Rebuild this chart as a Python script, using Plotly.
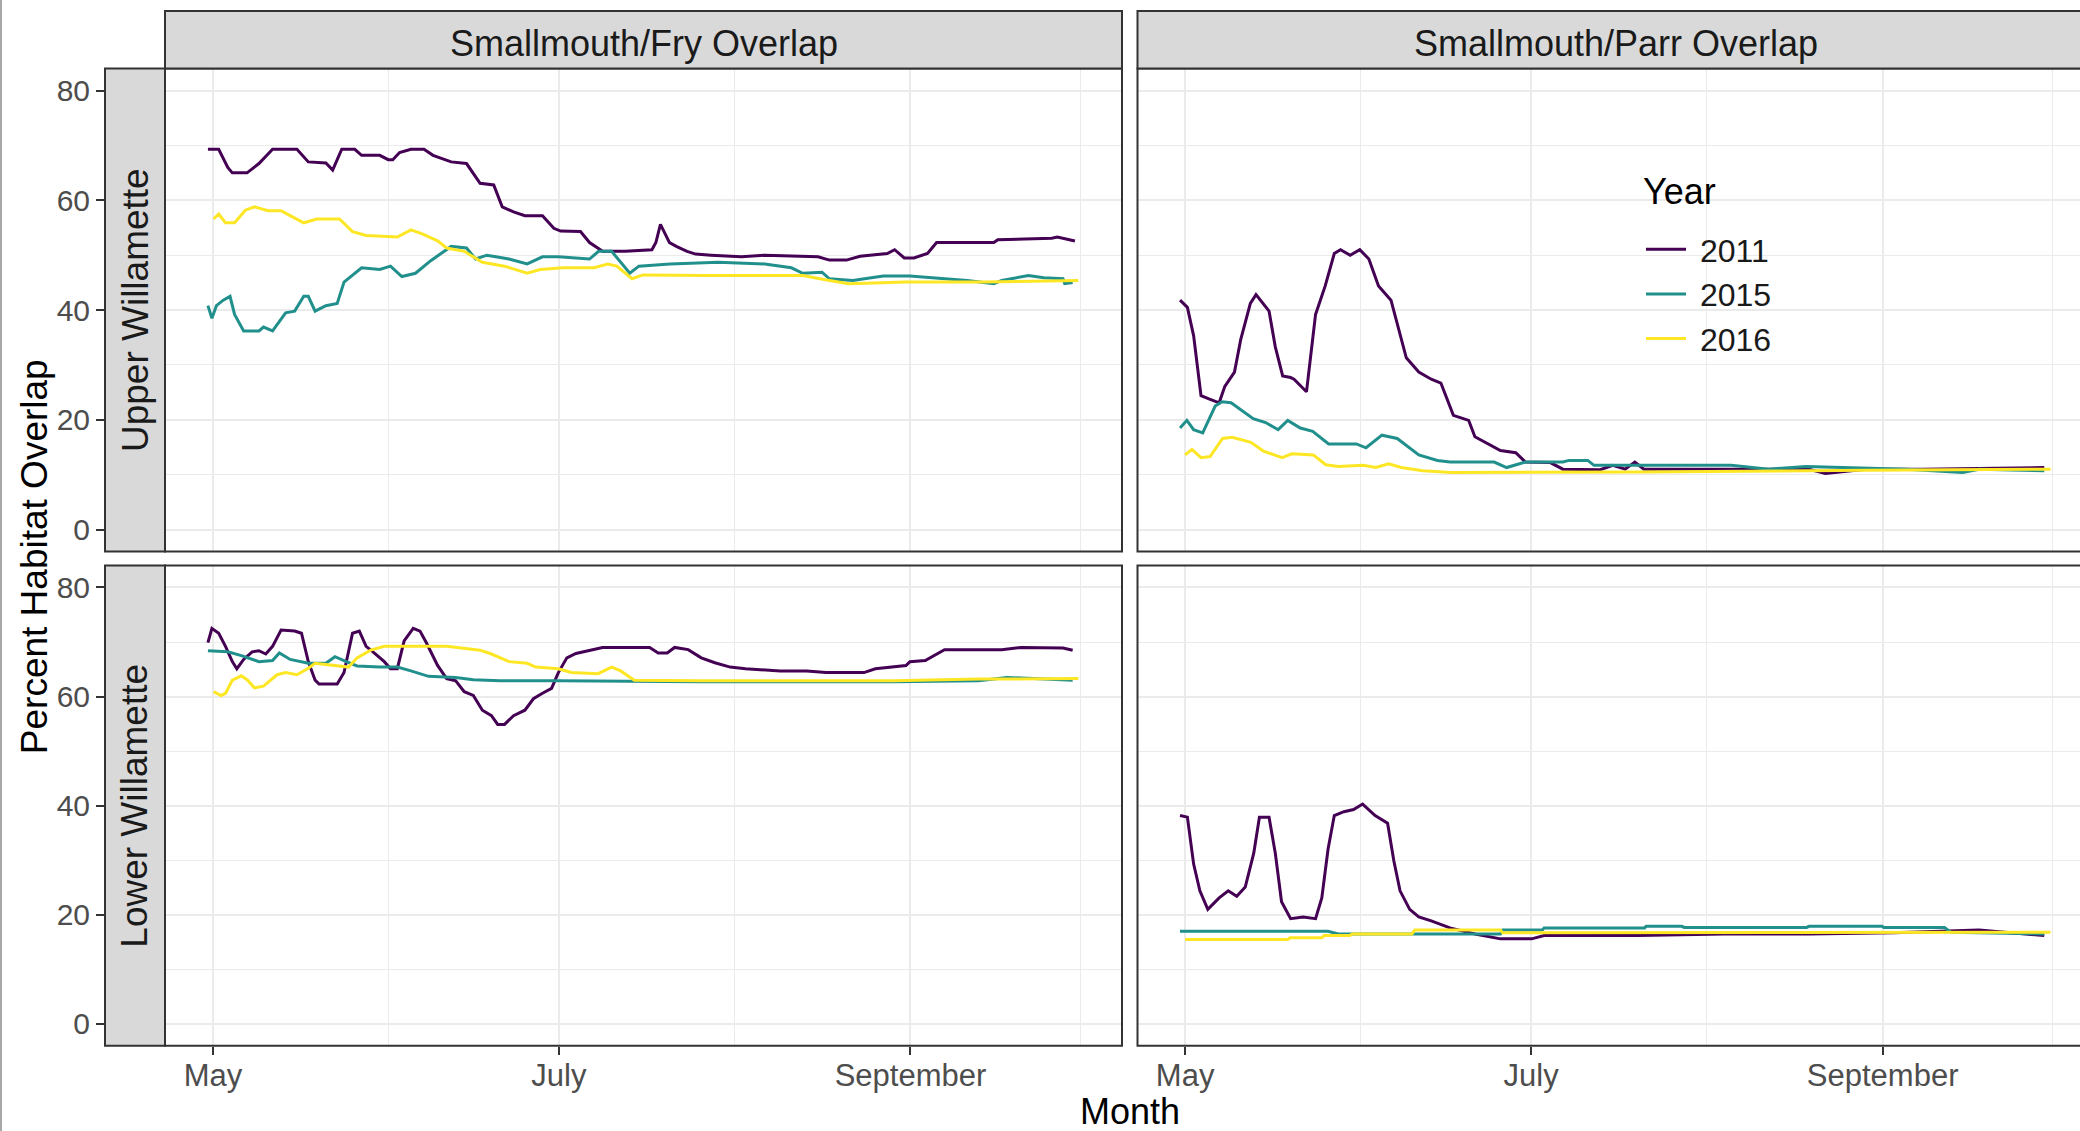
import pandas as pd
import plotly.graph_objects as go

W, H = 2080, 1131

# ---------------- data (x = days after May 1, y = percent overlap) ----------------
years = ["2011", "2015", "2016"]
colors = {"2011": "#440154", "2015": "#21908C", "2016": "#FDE725"}
col_titles = ["Smallmouth/Fry Overlap", "Smallmouth/Parr Overlap"]
row_titles = ["Upper Willamette", "Lower Willamette"]
x_tick_labels = ["May", "July", "September"]
x_tick_dates = ["2016-05-01", "2016-07-01", "2016-09-01"]
x_minor_dates = ["2016-06-01", "2016-08-01", "2016-10-01"]
y_ticks = [0, 20, 40, 60, 80]
y_minor = [10, 30, 50, 70]

fry_upper_2011_days = [-0.9, 1, 2.6, 3.4, 6, 8.1, 10.5, 14.8, 16.8, 19.9, 21.1, 22.7, 25, 26.2, 29.4, 30.9, 31.7, 32.9, 34.9, 37.2, 38.8, 42, 44.7, 47.1, 49.5, 51, 53, 55, 58.1, 60.1, 61.3, 64.8, 66.4, 68.7, 72.7, 77.4, 78.1, 78.9, 80.5, 81.7, 83.6, 85.1, 87.8, 93.2, 97.3, 106.7, 108.7, 111.7, 114.1, 118.9, 120.2, 121.9, 123.6, 126, 127.6, 137.7, 138.4, 147.9, 148.9, 152]
fry_upper_2011_vals = [69.3, 69.3, 66, 65, 65, 66.7, 69.3, 69.3, 67, 66.8, 65.5, 69.3, 69.3, 68.2, 68.2, 67.4, 67.4, 68.7, 69.3, 69.3, 68.2, 67, 66.7, 63.1, 62.8, 58.8, 57.9, 57.2, 57.2, 54.9, 54.4, 54.3, 52.3, 50.7, 50.7, 51, 52.3, 55.6, 52.3, 51.6, 50.7, 50.2, 50, 49.7, 50, 49.7, 49.1, 49.1, 49.8, 50.3, 51, 49.5, 49.5, 50.3, 52.3, 52.3, 52.8, 53.1, 53.3, 52.6]

fry_upper_2015_days = [-0.9, -0.2, 0.6, 1.8, 3, 3.8, 5.4, 8.1, 8.9, 10.5, 12.8, 14.4, 16, 16.8, 18, 19.9, 21.9, 23.1, 26.2, 29.4, 31.3, 33.3, 35.7, 38.4, 42, 44.7, 46.3, 48.3, 52.2, 55.4, 58.1, 60.9, 66.4, 68, 70.3, 73.5, 75.1, 80.6, 89.1, 97.3, 102, 104, 107.4, 108.7, 112.8, 118.2, 122.9, 133, 137.7, 139.1, 143.8, 146.5, 149.9, 150.2, 151.6]
fry_upper_2015_vals = [40.8, 38.5, 40.8, 41.8, 42.5, 39.2, 36.2, 36.2, 36.9, 36.2, 39.5, 39.8, 42.5, 42.5, 39.8, 40.8, 41.2, 45.1, 47.7, 47.4, 48, 46.1, 46.7, 49, 51.6, 51.3, 49.3, 50, 49.3, 48.4, 49.7, 49.7, 49.3, 50.7, 50.7, 46.7, 48, 48.4, 48.7, 48.4, 47.7, 46.7, 46.9, 45.7, 45.4, 46.2, 46.2, 45.4, 44.8, 45.4, 46.3, 45.9, 45.7, 44.8, 45]

fry_upper_2016_days = [0.1, 1, 2.2, 3.8, 5.7, 7.3, 9.7, 12, 13.6, 16, 18.3, 22.3, 24.6, 27, 32.5, 34.9, 36.9, 39.6, 41.2, 44.3, 47.5, 51.4, 55.4, 57.7, 61.7, 67.2, 69.6, 71.2, 73.9, 75.8, 87.1, 104, 108.7, 112.1, 122.2, 135.7, 152.6]
fry_upper_2016_vals = [56.6, 57.5, 55.9, 55.9, 58.2, 58.8, 58.1, 58.1, 57.2, 55.9, 56.6, 56.6, 54.3, 53.6, 53.3, 54.6, 53.9, 52.6, 51.3, 50.7, 48.7, 48, 46.7, 47.4, 47.7, 47.7, 48.4, 48, 45.7, 46.4, 46.3, 46.3, 45.4, 44.8, 45.1, 45.1, 45.4]

parr_upper_2011_days = [-0.9, 0.4, 1.5, 2.8, 4.2, 6, 7, 8.7, 9.8, 11.5, 12.5, 14.8, 15.9, 17.2, 18.6, 19.2, 21.4, 23, 24.7, 26.3, 27.4, 29.1, 30.8, 32.4, 34.1, 36.3, 39, 41.2, 43.4, 45.1, 47.3, 50, 51.1, 53.4, 55.6, 58.3, 60, 64.4, 66.6, 73.2, 75.4, 77.6, 79.3, 80.9, 100, 110, 112.9, 120, 130, 140, 151.5]
parr_upper_2011_vals = [41.8, 40.5, 35.3, 24.4, 23.8, 23.1, 26.1, 28.7, 34.6, 41.2, 42.8, 39.8, 33.3, 28, 27.7, 27.4, 25.1, 39.2, 44.4, 50.3, 51, 50, 51, 49.3, 44.4, 41.8, 31.3, 28.7, 27.4, 26.7, 20.8, 19.9, 16.9, 15.6, 14.4, 14, 12.3, 12.2, 11, 10.9, 11.7, 11, 12.3, 11, 11, 11, 10.2, 11, 11, 11.2, 11.3]

parr_upper_2015_days = [-0.9, 0.3, 1.5, 3.1, 5.3, 6.5, 8.1, 9.2, 12, 14.2, 16.4, 18.1, 20.3, 22.5, 25.3, 30.2, 31.9, 34.7, 37.4, 41.2, 44.5, 46.7, 54.5, 56.7, 60, 66.6, 67.7, 71, 72.1, 84.2, 96.3, 102.9, 109.5, 127.2, 137.1, 140, 151.5]
parr_upper_2015_vals = [18.5, 19.9, 18.2, 17.6, 22.5, 23.3, 23.1, 22.3, 20.2, 19.5, 18.2, 19.9, 18.5, 17.9, 15.6, 15.6, 14.9, 17.2, 16.6, 13.6, 12.6, 12.3, 12.3, 11.3, 12.3, 12.3, 12.6, 12.6, 11.7, 11.7, 11.7, 11, 11.5, 11, 10.4, 11, 10.7]

parr_upper_2016_days = [0, 1.2, 2.8, 4.4, 6.6, 8.3, 11.6, 13.8, 17.1, 18.8, 22.6, 24.8, 27, 31.4, 33.6, 35.9, 38.1, 41.9, 46.9, 80, 120, 152.6]
parr_upper_2016_vals = [13.6, 14.6, 13.1, 13.3, 16.6, 16.8, 15.9, 14.3, 13.1, 13.8, 13.6, 11.8, 11.5, 11.7, 11.3, 12, 11.3, 10.7, 10.4, 10.5, 10.8, 11]

fry_lower_2011_days = [-0.9, -0.2, 1, 2.2, 3.4, 4.2, 5.4, 6.9, 8.1, 9.3, 10.5, 12, 14.4, 15.6, 16.8, 18, 18.7, 21.9, 23.1, 24.6, 25.8, 27, 28.2, 30.2, 31.3, 32.5, 33.7, 35.3, 36.5, 37.6, 39.6, 41.2, 42.8, 44.3, 45.9, 47.5, 49.1, 50.2, 51.4, 53, 55, 56.5, 58.1, 59.7, 60.9, 62.4, 64, 66.4, 68.7, 77, 78.5, 80.1, 81.4, 83.8, 86.1, 88.5, 91.2, 93.9, 100, 104.7, 108.1, 114.8, 116.8, 122.2, 122.9, 125.6, 129, 139.1, 142.5, 149.9, 151.6]
fry_lower_2011_vals = [69.9, 72.5, 71.6, 69.2, 66.4, 65.1, 66.8, 68.2, 68.4, 67.8, 69.2, 72.2, 72, 71.6, 66.4, 63, 62.3, 62.3, 64.4, 71.6, 72, 69.2, 68.2, 66.4, 65.1, 65.1, 70.2, 72.5, 72, 69.9, 65.7, 63.3, 62.9, 60.9, 60.2, 57.5, 56.5, 54.9, 54.9, 56.5, 57.5, 59.6, 60.6, 61.5, 64.4, 67.1, 67.9, 68.5, 69, 69, 68, 68, 69, 68.6, 67.1, 66.2, 65.4, 65.1, 64.7, 64.7, 64.4, 64.4, 65.1, 65.7, 66.4, 66.6, 68.6, 68.6, 69, 68.9, 68.5]

fry_lower_2015_days = [-0.9, 2.6, 5, 8.1, 10.5, 11.7, 13.6, 16.8, 19.9, 21.5, 23.5, 25.4, 29.4, 32.5, 34.9, 38, 42.8, 45.9, 50.6, 60.9, 85.9, 120, 135, 140, 151.6]
fry_lower_2015_vals = [68.4, 68.2, 67.5, 66.4, 66.6, 68, 66.8, 66.1, 66.1, 67.3, 66.4, 65.6, 65.4, 65.4, 64.7, 63.7, 63.5, 63.1, 62.9, 62.9, 62.7, 62.7, 62.9, 63.5, 63]

fry_lower_2016_days = [0.1, 1.4, 2.2, 3.4, 5, 6.1, 7.3, 8.9, 11.3, 12.8, 14.8, 16.8, 18, 23.9, 25.4, 27.8, 30.2, 41.2, 47.1, 49.1, 52.2, 55.4, 56.9, 60.9, 63.2, 67.9, 70.3, 71.9, 74.3, 85.9, 120, 135, 152.6]
fry_lower_2016_vals = [60.9, 60.2, 60.6, 63, 63.8, 63, 61.6, 61.9, 64, 64.4, 64, 65.2, 66.1, 65.4, 67.1, 68.5, 69.2, 69.2, 68.5, 67.8, 66.4, 66.1, 65.4, 65.1, 64.4, 64.2, 65.4, 64.7, 63, 62.9, 62.9, 63.2, 63.3]

parr_lower_2011_days = [-0.9, 0.4, 1.5, 2.6, 4, 6, 7.6, 9.1, 10.6, 12.1, 13.1, 14.8, 15.9, 17, 18.6, 20.8, 23, 24.1, 25.2, 26.3, 28, 29.7, 31.3, 33.5, 35.7, 36.8, 37.9, 39.6, 41.2, 43.4, 46.7, 51.1, 55.6, 61.1, 63.3, 67.2, 79.9, 95, 110, 125, 140, 151.5]
parr_lower_2011_vals = [38.2, 37.9, 29.3, 24.4, 21, 23.1, 24.4, 23.4, 25.1, 31.3, 37.9, 37.9, 31.3, 22.4, 19.3, 19.6, 19.3, 23.1, 32, 38.2, 38.9, 39.3, 40.3, 38.2, 36.8, 29.9, 24.4, 21, 19.6, 18.9, 17.6, 16.5, 15.6, 15.6, 16.2, 16.2, 16.2, 16.5, 16.5, 16.7, 17.2, 16.2]

parr_lower_2015_days = [-0.9, 25.2, 27, 40, 55.6, 56, 63, 63.3, 81, 81.3, 87.6, 88, 109.6, 110, 122.9, 123.2, 133.9, 135, 151.5]
parr_lower_2015_vals = [17, 17, 16.5, 16.5, 16.5, 17.2, 17.2, 17.6, 17.6, 17.9, 17.9, 17.7, 17.7, 17.9, 17.9, 17.7, 17.7, 16.8, 16.5]

parr_lower_2016_days = [0, 18.1, 18.5, 24.1, 24.5, 29, 29.5, 40, 40.5, 55.6, 56, 100, 152.6]
parr_lower_2016_vals = [15.5, 15.5, 15.8, 15.8, 16.2, 16.2, 16.5, 16.5, 17.2, 17.2, 16.7, 16.8, 16.8]

series = {
    (0, 0): {"2011": (fry_upper_2011_days, fry_upper_2011_vals),
             "2015": (fry_upper_2015_days, fry_upper_2015_vals),
             "2016": (fry_upper_2016_days, fry_upper_2016_vals)},
    (0, 1): {"2011": (parr_upper_2011_days, parr_upper_2011_vals),
             "2015": (parr_upper_2015_days, parr_upper_2015_vals),
             "2016": (parr_upper_2016_days, parr_upper_2016_vals)},
    (1, 0): {"2011": (fry_lower_2011_days, fry_lower_2011_vals),
             "2015": (fry_lower_2015_days, fry_lower_2015_vals),
             "2016": (fry_lower_2016_days, fry_lower_2016_vals)},
    (1, 1): {"2011": (parr_lower_2011_days, parr_lower_2011_vals),
             "2015": (parr_lower_2015_days, parr_lower_2015_vals),
             "2016": (parr_lower_2016_days, parr_lower_2016_vals)},
}

BASE = pd.Timestamp("2016-05-01")


def to_dates(days):
    return BASE + pd.to_timedelta(pd.Series(days, dtype=float), unit="D")


def date_str(day):
    return (BASE + pd.Timedelta(days=day)).strftime("%Y-%m-%d %H:%M:%S")


# ---------------- layout geometry (pixels) ----------------
def px(x):
    return x / W


def py(y):
    return 1 - y / H


STRIP_TOP = 11
PANEL_TOP = [68.6, 565.6]
PANEL_BOT = [551.5, 1045.8]
ROW_STRIP_L = 105
COL_L = [165, 1137.5]
COL_R = [1122, 2094]
X_RANGE = [[-8.47, 160.3], [-8.4, 157.8]]

GRID = "#EBEBEB"
DARK = "#333333"
FONT = "Liberation Sans, Arial, sans-serif"

fig = go.Figure()

for (r, c), d in series.items():
    idx = r * 2 + c + 1
    sfx = "" if idx == 1 else str(idx)
    for yr in years:
        days, vals = d[yr]
        fig.add_trace(go.Scatter(
            x=to_dates(days), y=vals, mode="lines",
            line=dict(color=colors[yr], width=3),
            name="\u00a0" + yr, legendgroup=yr, showlegend=(idx == 1),
            xaxis="x" + sfx, yaxis="y" + sfx,
        ))

layout = dict(
    width=W, height=H, autosize=False,
    margin=dict(l=0, r=0, t=0, b=0),
    template="none",
    paper_bgcolor="white", plot_bgcolor="white",
    font=dict(family=FONT, color="#1A1A1A"),
    showlegend=True,
    legend=dict(
        x=px(1641), y=py(222), xanchor="left", yanchor="top",
        bgcolor="rgba(0,0,0,0)", borderwidth=0,
        font=dict(size=32, color="#1A1A1A", family=FONT),
        itemwidth=40, tracegroupgap=0,
    ),
)

for r in range(2):
    for c in range(2):
        idx = r * 2 + c + 1
        sfx = "" if idx == 1 else str(idx)
        xdom_r = min(COL_R[c], W) / W
        xa = dict(
            domain=[px(COL_L[c]), xdom_r], anchor="y" + sfx, type="date",
            range=[date_str(X_RANGE[c][0]), date_str(X_RANGE[c][1])],
            tickvals=x_tick_dates, ticktext=x_tick_labels,
            showgrid=True, gridcolor=GRID, gridwidth=2,
            minor=dict(tickvals=x_minor_dates, showgrid=True, gridcolor=GRID, gridwidth=1.3),
            zeroline=False, showline=False, automargin=False,
            fixedrange=True,
        )
        if r == 1:
            xa.update(ticks="outside", ticklen=8, tickwidth=2, tickcolor=DARK,
                      showticklabels=True, ticklabelstandoff=-6,
                      tickfont=dict(size=31, color="#4D4D4D", family=FONT))
        else:
            xa.update(ticks="", showticklabels=False)
        ya = dict(
            domain=[py(PANEL_BOT[r]), py(PANEL_TOP[r])], range=[-4, 84],
            tickvals=y_ticks, showgrid=True, gridcolor=GRID, gridwidth=2,
            minor=dict(tickvals=y_minor, showgrid=True, gridcolor=GRID, gridwidth=1.3),
            zeroline=False, showline=False, automargin=False, fixedrange=True,
        )
        if c == 0:
            ya.update(anchor="free", position=px(ROW_STRIP_L), ticks="outside",
                      ticklen=9, tickwidth=2, tickcolor=DARK, showticklabels=True,
                      tickfont=dict(size=30, color="#4D4D4D", family=FONT))
        else:
            ya.update(anchor="x" + sfx, ticks="", showticklabels=False)
        layout["xaxis" + sfx] = xa
        layout["yaxis" + sfx] = ya

shapes = []
annotations = []
# legend background (white key box over gridlines)
shapes.append(dict(type="rect", xref="paper", yref="paper", layer="between",
                   x0=px(1628), x1=px(1788), y0=py(371), y1=py(157),
                   line=dict(width=0), fillcolor="white"))
annotations.append(dict(text="Year", xref="paper", yref="paper", showarrow=False,
                        x=px(1641), y=py(192), xanchor="left", yanchor="middle",
                        font=dict(size=36, color="#000000", family=FONT)))
# panel borders
for r in range(2):
    for c in range(2):
        shapes.append(dict(type="rect", xref="paper", yref="paper", layer="above",
                           x0=px(COL_L[c]), x1=px(COL_R[c]), y0=py(PANEL_BOT[r]), y1=py(PANEL_TOP[r]),
                           line=dict(color=DARK, width=2), fillcolor="rgba(0,0,0,0)"))
# column strips
for c in range(2):
    shapes.append(dict(type="rect", xref="paper", yref="paper", layer="above",
                       x0=px(COL_L[c]), x1=px(COL_R[c]), y0=py(PANEL_TOP[0]), y1=py(STRIP_TOP),
                       line=dict(color=DARK, width=2), fillcolor="#D9D9D9"))
    annotations.append(dict(text=col_titles[c], xref="paper", yref="paper", showarrow=False,
                            x=px((COL_L[c] + COL_R[c]) / 2), y=py((STRIP_TOP + PANEL_TOP[0]) / 2 + 4),
                            xanchor="center", yanchor="middle",
                            font=dict(size=36, color="#1A1A1A", family=FONT)))
# row strips
for r in range(2):
    shapes.append(dict(type="rect", xref="paper", yref="paper", layer="above",
                       x0=px(ROW_STRIP_L), x1=px(COL_L[0]), y0=py(PANEL_BOT[r]), y1=py(PANEL_TOP[r]),
                       line=dict(color=DARK, width=2), fillcolor="#D9D9D9"))
    annotations.append(dict(text=row_titles[r], xref="paper", yref="paper", showarrow=False,
                            x=px((ROW_STRIP_L + COL_L[0]) / 2), y=py((PANEL_TOP[r] + PANEL_BOT[r]) / 2),
                            xanchor="center", yanchor="middle", textangle=-90,
                            font=dict(size=37, color="#1A1A1A", family=FONT)))
# image border line at left
shapes.append(dict(type="line", xref="paper", yref="paper", x0=px(1), x1=px(1), y0=0, y1=1,
                   line=dict(color="#A8A8A8", width=2)))

# axis titles
annotations.append(dict(text="Percent Habitat Overlap", xref="paper", yref="paper", showarrow=False,
                        x=px(34), y=py((PANEL_TOP[0] + PANEL_BOT[1]) / 2), textangle=-90,
                        xanchor="center", yanchor="middle",
                        font=dict(size=37, color="#000000", family=FONT)))
annotations.append(dict(text="Month", xref="paper", yref="paper", showarrow=False,
                        x=px((COL_L[0] + COL_R[1]) / 2), y=py(1111),
                        xanchor="center", yanchor="middle",
                        font=dict(size=36, color="#000000", family=FONT)))

layout["shapes"] = shapes
layout["annotations"] = annotations
fig.update_layout(**layout)

fig.write_html("out.html")
